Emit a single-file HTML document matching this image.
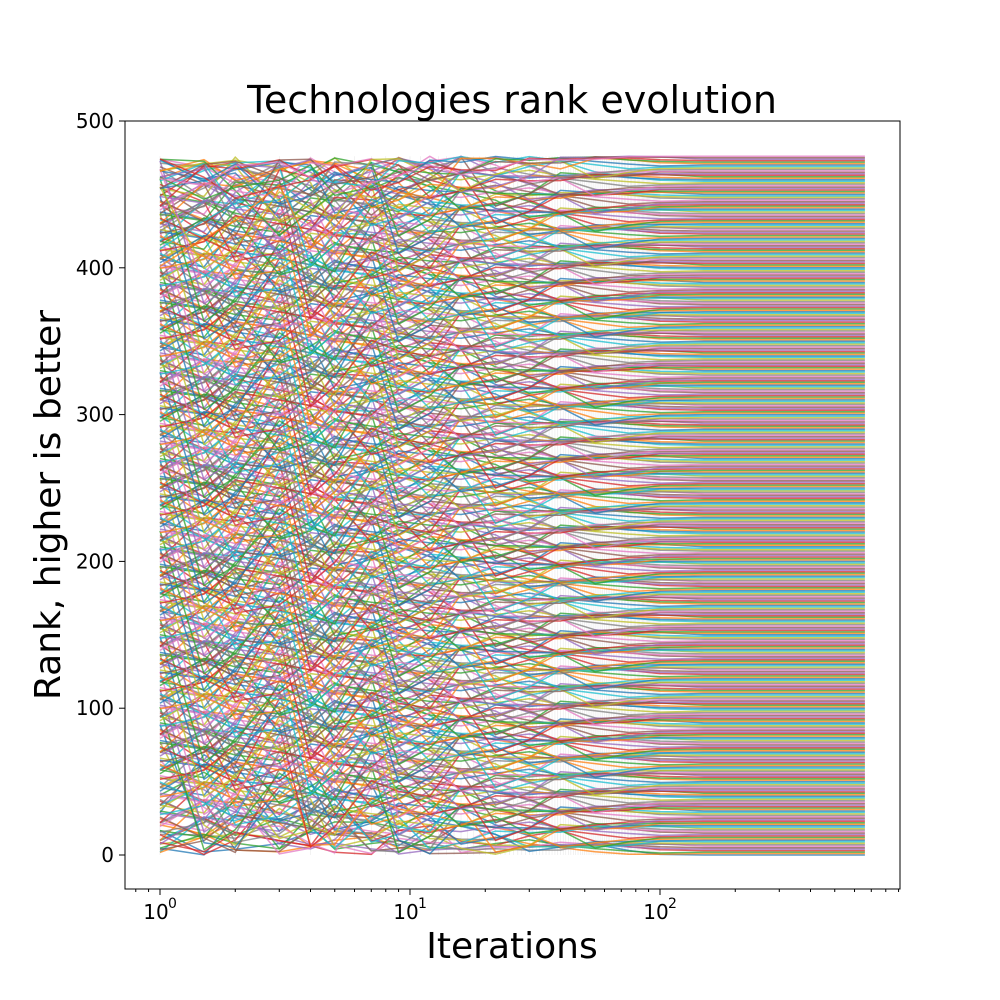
<!DOCTYPE html>
<html><head><meta charset="utf-8"><style>
body{margin:0;background:#fff;}
svg{display:block;font-family:"DejaVu Sans","Liberation Sans",sans-serif;}
</style></head><body>
<svg id="chart" width="1000" height="1000" viewBox="0 0 1000 1000">
<rect width="1000" height="1000" fill="#fff"/>
<g id="lines"></g>
<rect x="125" y="121" width="775" height="768" fill="none" stroke="#000" stroke-width="1"/>
<g id="axes"></g>
<text x="512" y="113" font-size="38" text-anchor="middle">Technologies rank evolution</text>
<text x="512" y="958" font-size="36" text-anchor="middle">Iterations</text>
<text transform="translate(60,505) rotate(-90)" font-size="36" text-anchor="middle">Rank, higher is better</text>
</svg>
<script>
const yTicks=[0,100,200,300,400,500];
const xDecades=[0,1,2];
const nTech=477;
const maxIter=660;
const checkIters=[1,1.5,2,3,4,5,7,9,12,16,22,30,40,55,75,100,150,660];
const mixWeights=[1,0.95,0.9,0.85,0.8,0.72,0.64,0.56,0.48,0.4,0.32,0.24,0.17,0.1,0.05,0.02,0,0];
const offsetAmps=[18,-30,40,-12,26,-45,10,34,-22,50,-38,7];
const colors=["#1f77b4","#ff7f0e","#2ca02c","#d62728","#9467bd","#8c564b","#e377c2","#7f7f7f","#bcbd22","#17becf"];
const NS="http://www.w3.org/2000/svg";
function xs(it){return 160+250*Math.log10(it);}
function ys(v){return 855-v*(734/500);}
const ax=document.getElementById('axes');
function mk(tag,attrs,parent){const e=document.createElementNS(NS,tag);for(const k in attrs)e.setAttribute(k,attrs[k]);parent.appendChild(e);return e;}
yTicks.forEach(v=>{
  const t=mk('line',{x1:119,x2:125,y1:ys(v),y2:ys(v),stroke:'#000'},ax);
  
  
  const l=mk('text',{x:114,y:ys(v)+7,'font-size':20,'text-anchor':'end'},ax);
  l.textContent=v;
  
  
});
xDecades.forEach(d=>{
  const x=xs(Math.pow(10,d));
  const t=mk('line',{x1:x,x2:x,y1:889,y2:895,stroke:'#000'},ax);
  
  
  const l=mk('text',{x:x-4,y:919,'font-size':20,'text-anchor':'middle'},ax);
  l.textContent='10';
  
  
  const s=mk('text',{x:x+8,y:908,'font-size':14},ax);
  s.textContent=d;
  
  
});
for(let d=-1;d<3;d++)for(let m=2;m<10;m++){
  const it=m*Math.pow(10,d);const x=xs(it);
  if(x<125||x>900)continue;
  const t=mk('line',{x1:x,x2:x,y1:889,y2:892,stroke:'#000'},ax);
  
  
}
const lg=document.getElementById('lines');
for(let it=1;it<=100;it++){
  const v=mk('line',{x1:xs(it),x2:xs(it),y1:ys(nTech-1),y2:ys(0),stroke:'#ccc','stroke-width':0.5,opacity:0.5},lg);
  
  
}
for(let r=0;r<nTech;r++){
  let d='';
  checkIters.forEach((it,i)=>{
    const w=mixWeights[i];
    const off=offsetAmps[(r*7+i*5)%offsetAmps.length]*((r%3===0)?1.6:0.7);
    let v=r+off*w;
    if(v<0)v=-v;
    if(v>nTech-1)v=2*(nTech-1)-v;
    d+=(i?'L':'M')+xs(Math.min(it,maxIter)).toFixed(1)+','+ys(v).toFixed(1);
  });
  const p=mk('path',{d:d,fill:'none',stroke:colors[r%10],'stroke-width':1.5,opacity:0.75,'stroke-linejoin':'round'},lg);
  
  
}
</script>
</body></html>
